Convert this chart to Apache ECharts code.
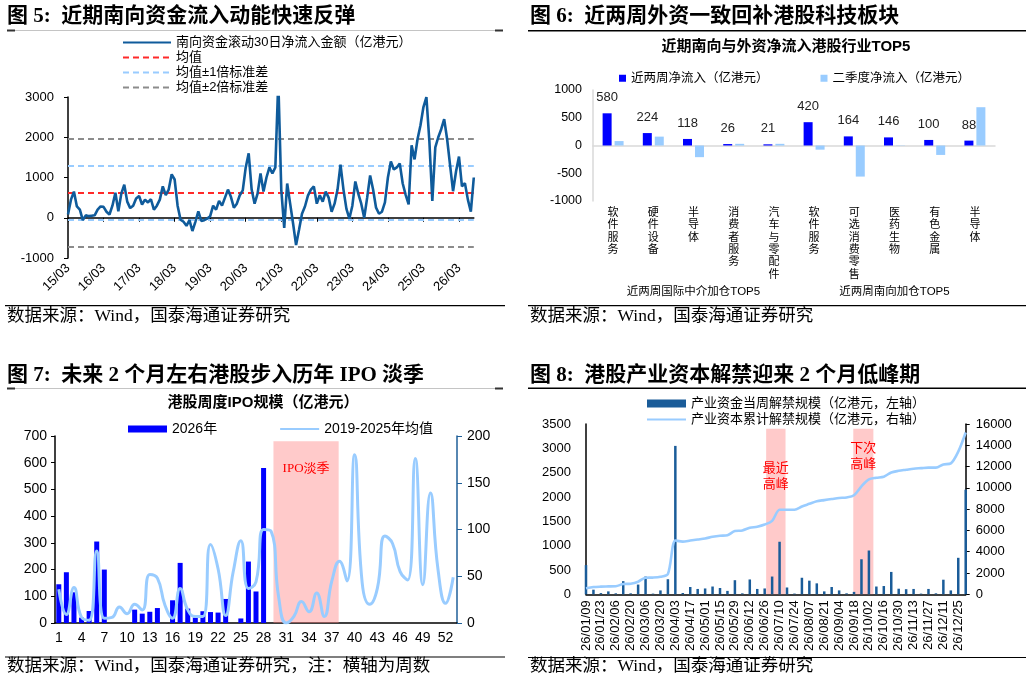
<!DOCTYPE html>
<html><head><meta charset="utf-8">
<script src="https://cdn.jsdelivr.net/npm/echarts@6/dist/echarts.min.js"></script>
<style>html,body{margin:0;padding:0;background:#fff}#c{width:1032px;height:682px}</style>
</head><body><div id="c"></div>
<script>
// ===== 图5 数据：南向资金滚动30日净流入（月度，起于15/03）=====
const f5Values = [
  80, 450, 650, 280, 200, -60, 60, 40, 50, 60,                         // 2015/03-12
  200, 280, 270, 150, 80, 300, 620, 160, 600, 820, 400, 240,           // 2016
  300, 480, 540, 330, 450, 380, 460, 200, 300, 450, 780, 560,          // 2017
  700, 1080, 950, 300, -50, -100, -200, -60, -330, -100, 160, -80,     // 2018
  -60, -20, 40, 300, 200, 420, 300, 500, 700, 520, 250, 350,           // 2019
  560, 680, 1250, 1600, 700, 350, 600, 1100, 650, 1000, 1250, 1100,    // 2020
  1250, 3400, 700, -250, 850, 350, -150, -680, -300, 100, 280, 550,    // 2021
  700, 780, 350, 560, 400, 650, 500, 150, 350, 700, 1320, 700,         // 2022
  220, -20, 300, 900, 600, 350, 0, 500, 1050, 700, 250, 100,           // 2023
  150, 380, 1000, 1400, 1200, 1250, 1350, 850, 570, 330, 1800, 1450,   // 2024
  1950, 2300, 2750, 3000, 1900, 420, 1750, 2000, 2200, 2450, 1950, 1300, // 2025
  660, 1150, 1520, 780, 860, 450, 150, 1000                            // 2026/01-08
];
const f5Mean = 625;
const f5Sd1 = [-50, 1300];
const f5Sd2 = [-725, 1975];
const f5Months = [];
for (let i = 0; i < f5Values.length; i++) {
  const m = 2 + i;
  const y = 15 + Math.floor(m / 12), mm = m % 12 + 1;
  f5Months.push(String(y).padStart(2, '0') + '/' + String(mm).padStart(2, '0'));
}

// ===== 图6 数据 =====
const f6Cats = ['软件服务', '硬件设备', '半导体', '消费者服务', '汽车与零配件', '软件服务', '可选消费零售', '医药生物', '有色金属', '半导体'];
const f6Groups = ['近两周国际中介加仓TOP5', '近两周南向加仓TOP5'];
const f6Recent = [580, 224, 118, 26, 21, 420, 164, 146, 100, 88];
const f6Q2 = [80, 160, -210, 30, 30, -75, -560, 5, -170, 690];

// ===== 图7 数据：周度 IPO 规模 =====
const f7Weeks = [];
for (let i = 1; i <= 53; i++) f7Weeks.push(String(i));
const f7Bars2026 = [145, 190, 115, 20, 45, 305, 200, 0, 0, 0, 50, 35, 42, 56, 0, 85, 225, 54, 20, 44, 41, 39, 90, 0, 17, 230, 118, 580,
  null, null, null, null, null, null, null, null, null, null, null, null, null, null, null, null, null, null, null, null, null, null, null, null, null];
const f7Avg = [36, 9, 38, 6, 3, 77, 5, 6, 17, 10, 20, 14, 52, 48, 19, 5, 37, 14, 7, 7, 84, 58, 8, 55, 88, 37, 44, 100, 98, 27,
  0, 7, 23, 12, 32, 7, 45, 66, 45, 180, 43, 20, 37, 93, 85, 55, 46, 176, 41, 139, 57, 21, 49];
const f7Season = [29.3, 37.9];

// ===== 图8 数据：产业资本解禁 =====
const f8Dates = ['26/01/09', '26/01/16', '26/01/23', '26/01/30', '26/02/06', '26/02/13', '26/02/20', '26/02/27', '26/03/06', '26/03/13',
  '26/03/20', '26/03/27', '26/04/03', '26/04/10', '26/04/17', '26/04/24', '26/05/01', '26/05/08', '26/05/15', '26/05/22', '26/05/29',
  '26/06/05', '26/06/12', '26/06/19', '26/06/26', '26/07/03', '26/07/10', '26/07/17', '26/07/24', '26/07/31', '26/08/07', '26/08/14',
  '26/08/21', '26/08/28', '26/09/04', '26/09/11', '26/09/18', '26/09/25', '26/10/02', '26/10/09', '26/10/16', '26/10/23', '26/10/30',
  '26/11/06', '26/11/13', '26/11/20', '26/11/27', '26/12/04', '26/12/11', '26/12/18', '26/12/25', '27/01/01'];
const f8Weekly = [600, 95, 25, 60, 20, 270, 20, 200, 365, 14, 80, 310, 3050, 27, 150, 110, 120, 160, 130, 70, 290, 20, 305, 110, 120, 365,
  1080, 140, 15, 340, 280, 225, 60, 150, 80, 20, 50, 720, 900, 160, 170, 460, 115, 105, 110, 14, 110, 20, 300, 80, 750, 2150];
const f8Cum = [560, 680, 720, 740, 760, 960, 990, 1180, 1560, 1570, 1640, 1900, 5050, 4950, 5050, 5150, 5250, 5400, 5500, 5550, 5950,
  6000, 6250, 6350, 6550, 6900, 7950, 7950, 7950, 8250, 8500, 8750, 8850, 8950, 9050, 9100, 9300, 10150, 10800, 10950, 11050, 11450,
  11600, 11700, 11800, 11850, 11900, 11900, 12200, 12300, 13400, 15200];
const f8Peaks = [[24.2, 26.8, '最近\n高峰', 31], [35.9, 38.6, '下次\n高峰', 11]];

// ===== 样式 =====
const SANS = "'Liberation Sans', Arial, 'Noto Sans CJK SC', sans-serif";
const SERIF = "'Liberation Serif', 'Times New Roman', 'Noto Sans CJK SC', serif";
const DARK = '#0f5b9b';
const LIGHT = '#99ccff';
const BLUE = '#0000ff';

function txt(x, y, s, font, align) {
  return { type: 'text', x: x, y: y, silent: true,
    style: { text: s, font: font, fill: '#000', align: align || 'left', verticalAlign: 'middle' } };
}
function ln(x1, y1, x2, y2, c, w) {
  return { type: 'line', silent: true, shape: { x1: x1, y1: y1, x2: x2, y2: y2 }, style: { stroke: c, lineWidth: w } };
}
const TF = 'bold 21px ' + SERIF;
const SF = '17.5px ' + SERIF;
const graphics = [
  txt(7, 17, '图 5:  近期南向资金流入动能快速反弹', TF),
  txt(530, 17, '图 6:  近两周外资一致回补港股科技板块', TF),
  txt(7, 376, '图 7:  未来 2 个月左右港股步入历年 IPO 淡季', TF),
  txt(530, 376, '图 8:  港股产业资本解禁迎来 2 个月低峰期', TF),
  txt(7, 316, '数据来源：Wind，国泰海通证券研究', SF),
  txt(530, 316, '数据来源：Wind，国泰海通证券研究', SF),
  txt(7, 666, '数据来源：Wind，国泰海通证券研究，注：横轴为周数', SF),
  txt(530, 666, '数据来源：Wind，国泰海通证券研究', SF),
  txt(786, 47, '近期南向与外资净流入港股行业TOP5', 'bold 15px ' + SANS, 'center'),
  txt(263, 403, '港股周度IPO规模（亿港元）', 'bold 15px ' + SANS, 'center'),
  ln(7, 30.5, 503, 30.5, '#c4c4c4', 1), ln(7, 30.5, 15, 30.5, '#333', 2), ln(495, 30.5, 503, 30.5, '#333', 2),
  ln(7, 388.5, 503, 388.5, '#c4c4c4', 1), ln(7, 388.5, 15, 388.5, '#333', 2), ln(495, 388.5, 503, 388.5, '#333', 2),
  ln(528, 30.7, 1026, 30.7, '#000', 1.5),
  ln(528, 388.3, 1026, 388.3, '#000', 1.5),
  ln(5, 305.7, 505, 305.7, '#000', 1.2),
  ln(528, 305.7, 1026, 305.7, '#000', 1.2),
  ln(5, 657, 505, 657, '#000', 1.2),
  ln(528, 657.5, 1026, 657.5, '#000', 1.2)
];

const lab = (size, extra) => Object.assign({ fontSize: size, color: '#000', fontFamily: SANS }, extra || {});
const plain = v => String(v);
const lineLeg = name => ({ name: name, icon: 'inherit', itemStyle: { opacity: 0 } });

const option = {
  animation: false,
  backgroundColor: '#fff',
  graphic: graphics,
  grid: [
    { left: 68, top: 97, width: 405.8, height: 161 },
    { left: 593, top: 90, width: 402, height: 111 },
    { left: 55, top: 436, width: 402, height: 187 },
    { left: 586, top: 424, width: 379.7, height: 170.3 }
  ],
  legend: [
    { data: [lineLeg('南向资金滚动30日净流入金额（亿港元）'), lineLeg('均值'), lineLeg('均值±1倍标准差'), lineLeg('均值±2倍标准差')],
      orient: 'vertical', left: 117, top: 31, itemWidth: 48, itemHeight: 12, itemGap: 2, selectedMode: false,
      textStyle: lab(13) },
    { data: [{ name: '近两周净流入（亿港元）', icon: 'rect' }, { name: '二季度净流入（亿港元）', icon: 'rect' }],
      left: 614, top: 67, itemWidth: 7, itemHeight: 7, itemGap: 52, selectedMode: false, textStyle: lab(12.5) },
    { data: [{ name: '2026年', icon: 'rect' }, lineLeg('2019-2025年均值')],
      left: 123, top: 417, itemWidth: 39, itemHeight: 7, itemGap: 62, selectedMode: false, textStyle: lab(14) },
    { data: [{ name: '产业资金当周解禁规模（亿港元，左轴）', icon: 'rect' }, lineLeg('产业资本累计解禁规模（亿港元，右轴）')],
      orient: 'vertical', left: 641, top: 392, itemWidth: 39, itemHeight: 8, itemGap: 3, selectedMode: false,
      textStyle: lab(13) }
  ],
  xAxis: [
    { gridIndex: 0, type: 'category', data: f5Months, boundaryGap: false,
      axisLine: { onZero: true, lineStyle: { color: '#000', width: 1.5 } },
      axisTick: { interval: 11, length: 4, lineStyle: { color: '#000' } }, axisLabel: { show: false }, splitLine: { show: false } },
    { gridIndex: 0, type: 'category', data: f5Months, boundaryGap: false, position: 'bottom',
      axisLine: { show: false, onZero: false }, axisTick: { show: false },
      axisLabel: lab(13, { interval: 11, rotate: 45, margin: 8 }) },
    { gridIndex: 1, type: 'category', data: f6Cats,
      axisLine: { onZero: true, lineStyle: { color: '#d9d9d9', width: 1.5 } }, axisTick: { show: false }, axisLabel: { show: false } },
    { gridIndex: 1, type: 'category', data: f6Cats, position: 'bottom',
      axisLine: { show: false, onZero: false }, axisTick: { show: false },
      axisLabel: lab(11, { interval: 0, margin: 6, lineHeight: 12.3, formatter: v => v.split('').join('\n') }) },
    { gridIndex: 1, type: 'category', data: f6Groups, position: 'bottom', offset: 100,
      axisLine: { show: false, onZero: false },
      axisTick: { inside: true, length: 100, lineStyle: { color: '#d9d9d9', width: 1.5 } },
      axisLabel: lab(11.5, { interval: 0, margin: -15 }) },
    { gridIndex: 2, type: 'category', data: f7Weeks,
      axisLine: { onZero: false, lineStyle: { color: '#000', width: 1.5 } },
      axisTick: { interval: 2, length: 4, lineStyle: { color: '#000' } },
      axisLabel: lab(14, { interval: 2, margin: 8 }) },
    { gridIndex: 2, type: 'value', min: 0.5, max: 53.5, show: false },
    { gridIndex: 3, type: 'category', data: f8Dates, boundaryGap: false,
      axisLine: { onZero: false, lineStyle: { color: '#000', width: 1.5 } }, axisTick: { show: false },
      axisLabel: lab(13, { interval: 1, rotate: 90, margin: 6 }) },
    { gridIndex: 3, type: 'value', min: 0, max: 51, show: false }
  ],
  yAxis: [
    { gridIndex: 0, type: 'value', min: -1000, max: 3000, interval: 1000,
      axisLine: { show: true, onZero: false, lineStyle: { color: '#000', width: 1.5 } },
      axisTick: { show: true, length: 4, lineStyle: { color: '#000' } }, splitLine: { show: false },
      axisLabel: lab(13, { margin: 14, formatter: plain }) },
    { gridIndex: 1, type: 'value', min: -1000, max: 1000, interval: 500,
      axisLine: { show: true, onZero: false, lineStyle: { color: '#d9d9d9', width: 1.5 } },
      axisTick: { show: false }, splitLine: { show: false }, axisLabel: lab(12.5, { margin: 11, formatter: plain }) },
    { gridIndex: 2, type: 'value', min: 0, max: 700, interval: 100,
      axisLine: { show: true, onZero: false, lineStyle: { color: '#000', width: 1.5 } },
      axisTick: { show: true, length: 4, lineStyle: { color: '#000' } }, splitLine: { show: false },
      axisLabel: lab(14, { margin: 8, formatter: plain }) },
    { gridIndex: 2, type: 'value', position: 'right', min: 0, max: 200, interval: 50,
      axisLine: { show: true, onZero: false, lineStyle: { color: '#1f5f99', width: 1.5 } },
      axisTick: { show: true, length: 5, lineStyle: { color: '#1f5f99' } }, splitLine: { show: false },
      axisLabel: lab(14, { margin: 10, formatter: plain }) },
    { gridIndex: 3, type: 'value', min: 0, max: 3500, interval: 500,
      axisLine: { show: true, onZero: false, lineStyle: { color: '#000', width: 1.5 } },
      axisTick: { show: false }, splitLine: { show: false }, axisLabel: lab(13, { margin: 15, formatter: plain }) },
    { gridIndex: 3, type: 'value', position: 'right', min: 0, max: 16000, interval: 2000,
      axisLine: { show: true, onZero: false, lineStyle: { color: '#000', width: 1.5 } },
      axisTick: { show: true, length: 4, lineStyle: { color: '#000' } }, splitLine: { show: false },
      axisLabel: lab(13, { margin: 10, formatter: plain }) }
  ],
  series: [
    { type: 'line', name: '南向资金滚动30日净流入金额（亿港元）', xAxisIndex: 0, yAxisIndex: 0, data: f5Values,
      symbol: 'none', lineStyle: { color: DARK, width: 2.6 }, itemStyle: { color: DARK }, z: 5 },
    { type: 'line', name: '均值', xAxisIndex: 0, yAxisIndex: 0, data: [], symbol: 'none',
      lineStyle: { color: '#ff2a2a', width: 2, type: [6, 4] }, itemStyle: { color: '#ff2a2a' }, z: 3,
      markLine: { silent: true, symbol: 'none', label: { show: false }, lineStyle: { color: '#ff2a2a', width: 2, type: [6, 4] },
        data: [{ yAxis: f5Mean }] } },
    { type: 'line', name: '均值±1倍标准差', xAxisIndex: 0, yAxisIndex: 0, data: [], symbol: 'none',
      lineStyle: { color: LIGHT, width: 2, type: [6, 4] }, itemStyle: { color: LIGHT }, z: 3,
      markLine: { silent: true, symbol: 'none', label: { show: false }, lineStyle: { color: LIGHT, width: 2, type: [6, 4] },
        data: f5Sd1.map(v => ({ yAxis: v })) } },
    { type: 'line', name: '均值±2倍标准差', xAxisIndex: 0, yAxisIndex: 0, data: [], symbol: 'none',
      lineStyle: { color: '#8c8c8c', width: 2, type: [6, 4] }, itemStyle: { color: '#8c8c8c' }, z: 3,
      markLine: { silent: true, symbol: 'none', label: { show: false }, lineStyle: { color: '#8c8c8c', width: 2, type: [6, 4] },
        data: f5Sd2.map(v => ({ yAxis: v })) } },

    { type: 'bar', name: '近两周净流入（亿港元）', xAxisIndex: 2, yAxisIndex: 1, data: f6Recent, barWidth: 9, barGap: '33%',
      itemStyle: { color: BLUE }, label: { show: true, position: 'top', distance: 9, fontSize: 13, color: '#222', fontFamily: SANS } },
    { type: 'bar', name: '二季度净流入（亿港元）', xAxisIndex: 2, yAxisIndex: 1, data: f6Q2, barWidth: 9, barGap: '33%',
      itemStyle: { color: LIGHT } },

    { type: 'bar', name: '2026年', xAxisIndex: 5, yAxisIndex: 2, data: f7Bars2026, barWidth: 5, itemStyle: { color: BLUE }, z: 2 },
    { type: 'line', name: '2019-2025年均值', xAxisIndex: 5, yAxisIndex: 3, data: f7Avg, smooth: 0.5, symbol: 'none',
      lineStyle: { color: LIGHT, width: 3 }, itemStyle: { color: LIGHT }, z: 3 },
    { type: 'line', name: 'f7area', xAxisIndex: 6, yAxisIndex: 2, data: [], z: 10,
      markArea: { silent: true, itemStyle: { color: 'rgba(255,128,128,0.42)' },
        label: { show: true, position: 'insideTop', distance: 21, color: '#ff0000', fontSize: 13, fontFamily: SERIF },
        data: [[{ xAxis: f7Season[0], yAxis: 0, name: 'IPO淡季' }, { xAxis: f7Season[1], yAxis: 680 }]] } },

    { type: 'bar', name: '产业资金当周解禁规模（亿港元，左轴）', xAxisIndex: 7, yAxisIndex: 4, data: f8Weekly, barWidth: 2.5,
      itemStyle: { color: '#1a5c99' }, z: 2 },
    { type: 'line', name: '产业资本累计解禁规模（亿港元，右轴）', xAxisIndex: 7, yAxisIndex: 5, data: f8Cum, smooth: 0.3, symbol: 'none',
      lineStyle: { color: LIGHT, width: 2.6 }, itemStyle: { color: LIGHT }, z: 3 },
    { type: 'line', name: 'f8area', xAxisIndex: 8, yAxisIndex: 4, data: [], z: 10,
      markArea: { silent: true, itemStyle: { color: 'rgba(255,128,128,0.42)' },
        label: { show: true, position: 'insideTop', color: '#ff0000', fontSize: 13, lineHeight: 16.5, fontFamily: SERIF },
        data: f8Peaks.map(p => [{ xAxis: p[0], yAxis: 0, name: p[2], label: { distance: p[3] } }, { xAxis: p[1], yAxis: 3400 }]) } }
  ]
};
const chart = echarts.init(document.getElementById('c'), null, { renderer: 'canvas' });
chart.setOption(option);
</script>
</body></html>
